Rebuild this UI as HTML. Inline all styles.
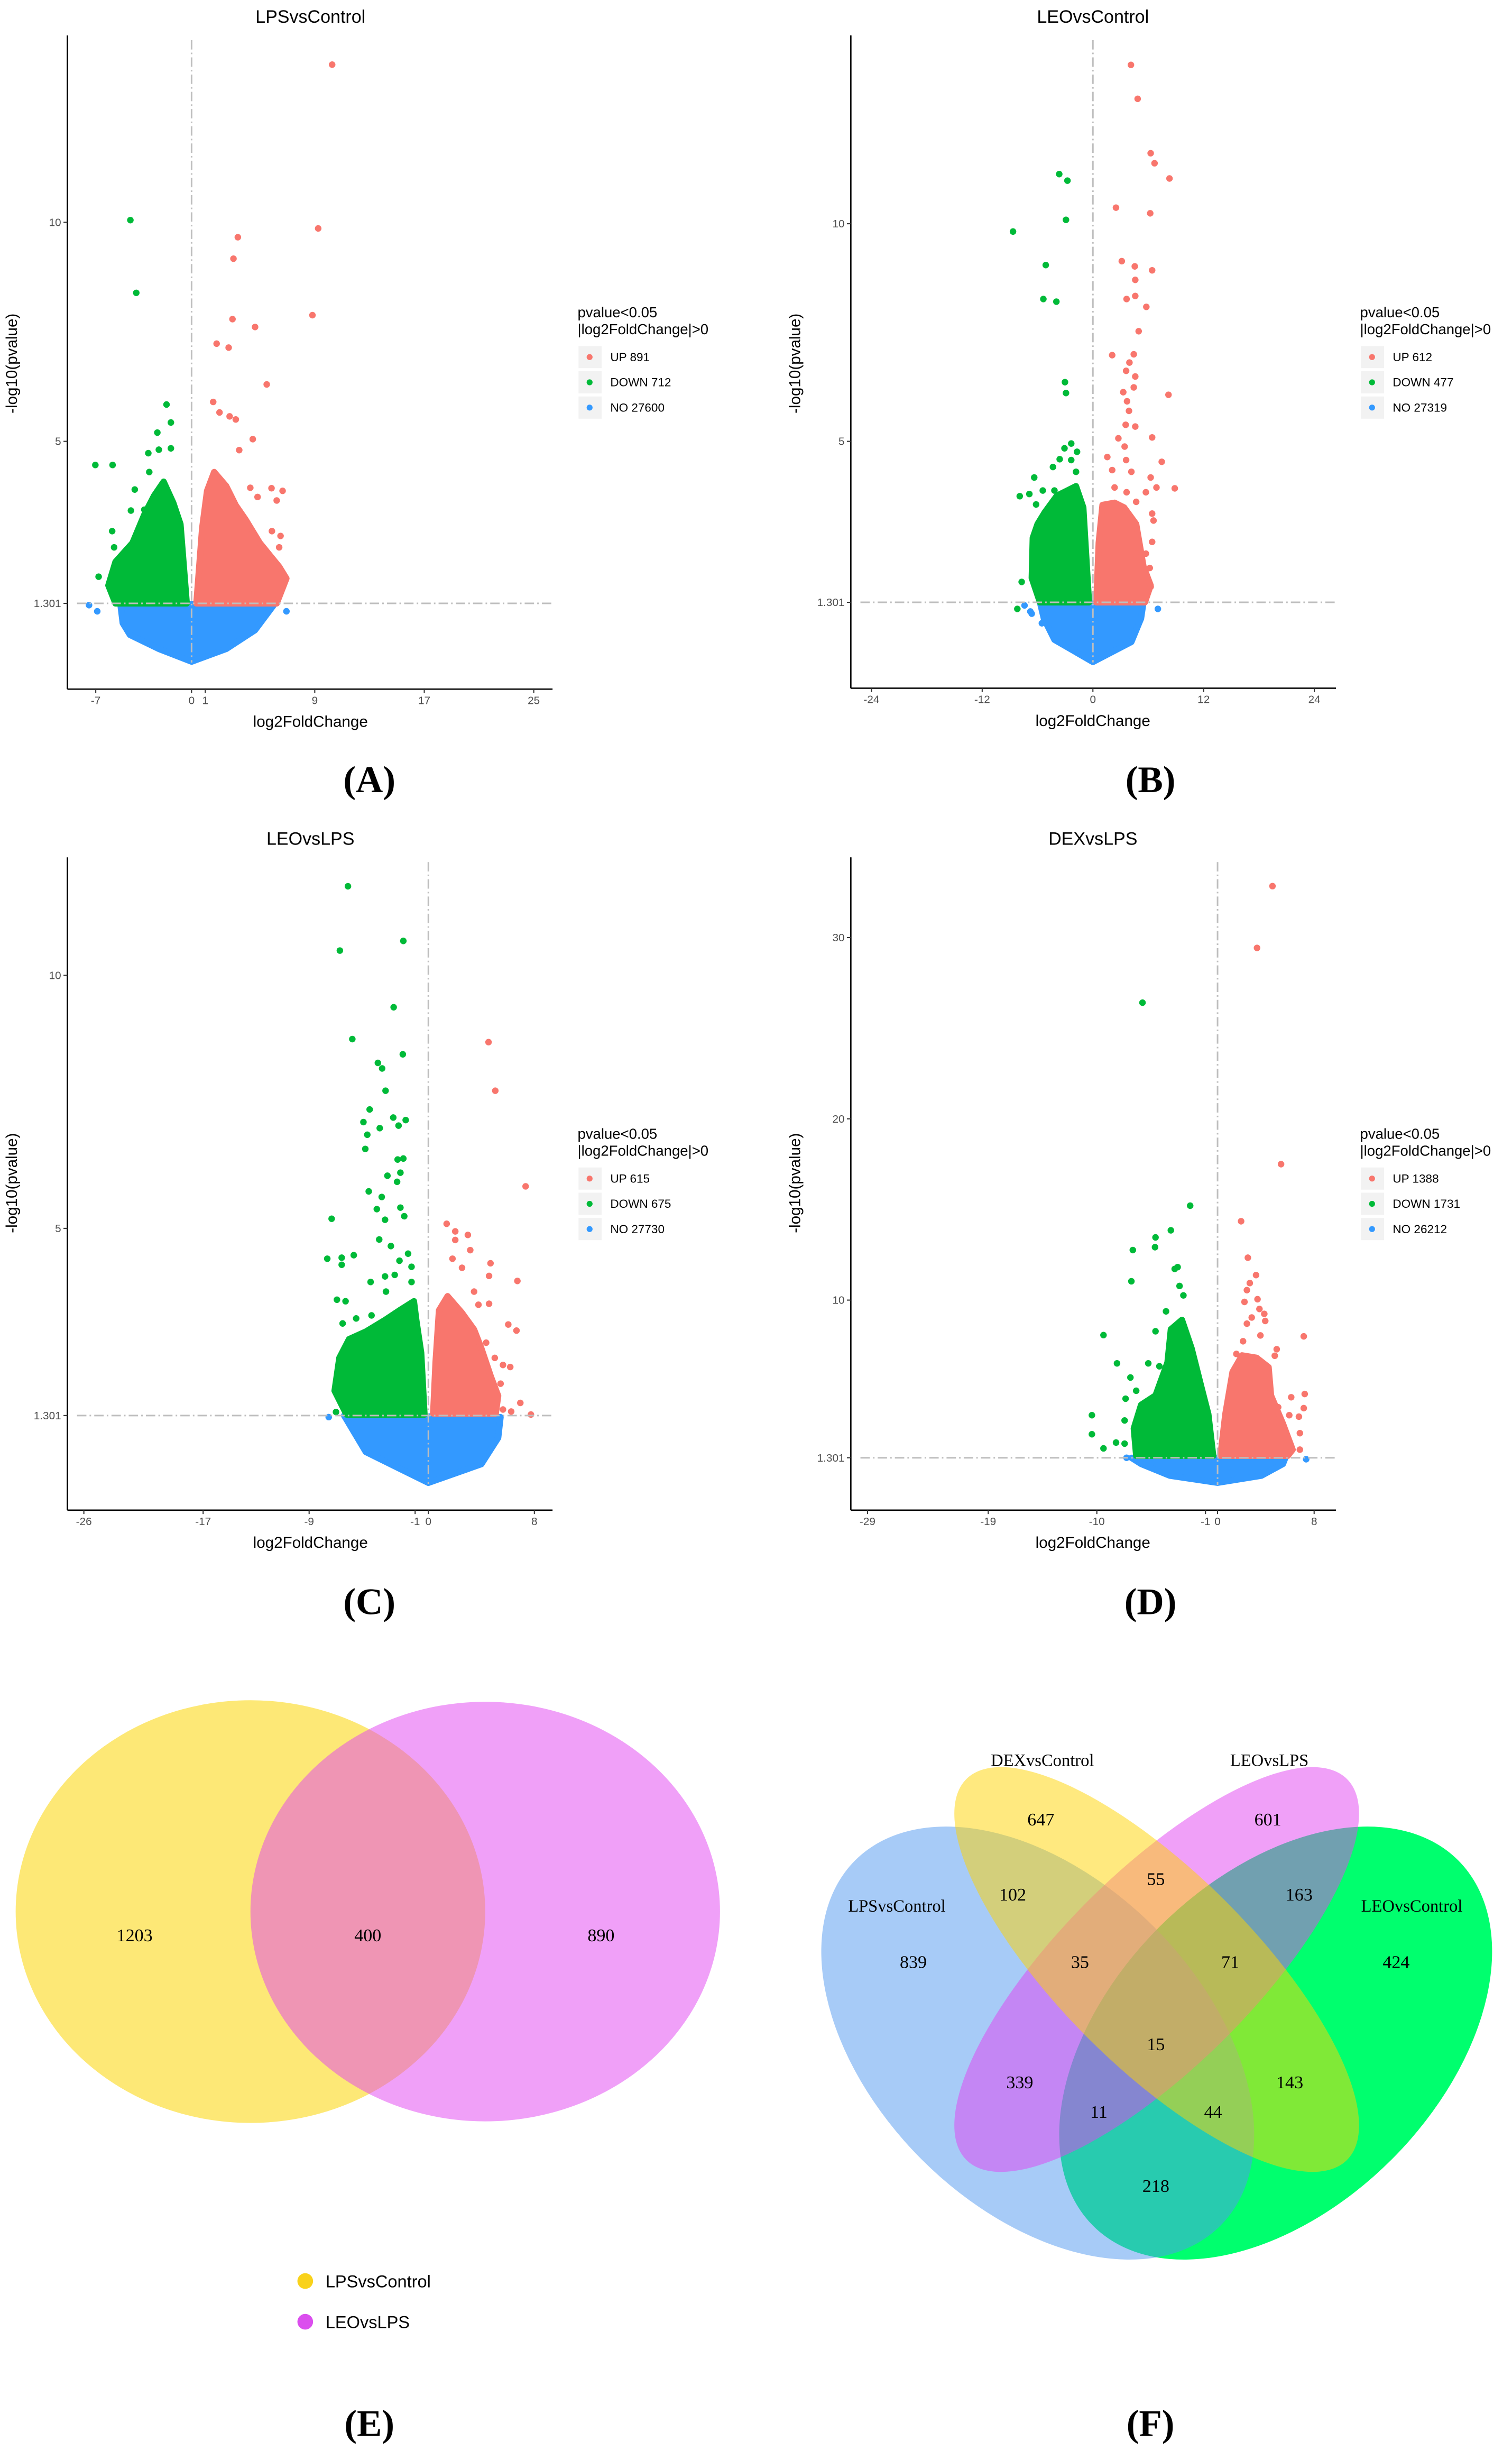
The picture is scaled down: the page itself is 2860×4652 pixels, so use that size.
<!DOCTYPE html>
<html><head><meta charset="utf-8"><style>
html,body{margin:0;padding:0;background:#fff;}
svg{display:block;}
</style></head><body>
<svg id="fig" xmlns="http://www.w3.org/2000/svg" width="2860" height="4652" viewBox="0 0 966 1571.3" font-family="Liberation Sans, sans-serif">
<rect x="0" y="0" width="966" height="1571.3" fill="#fff"/>
<g font-family="Liberation Serif, serif" font-weight="bold" font-size="24" text-anchor="middle" fill="#000">
<text x="236" y="506">(A)</text>
<text x="735" y="506">(B)</text>
<text x="236" y="1031">(C)</text>
<text x="735" y="1031">(D)</text>
<text x="236" y="1556">(E)</text>
<text x="735" y="1556">(F)</text>
</g>
</svg>
<script>
// ---------- Panel A: LPSvsControl ----------
const A_upX=[10.27,9.25,3.38,3.06,8.83,2.99,4.64,1.83,2.71,5.49,1.58,2.04,2.78,3.23,4.47,3.48,5.84,6.65,6.22,4.29,4.82,5.87,6.50,6.40,6.75];
const A_upY=[13.6,9.86,9.66,9.17,7.88,7.79,7.61,7.23,7.14,6.30,5.90,5.66,5.57,5.50,5.05,4.80,3.93,3.87,3.65,3.94,3.73,2.95,2.84,2.58,1.88];
const A_downX=[-4.47,-4.04,-1.83,-1.51,-2.50,-7.03,-5.77,-3.16,-2.39,-1.51,-4.15,-4.43,-5.80,-5.66,-6.79,-4.50,-3.45,-3.09];
const A_downY=[10.05,8.39,5.84,5.43,5.20,4.46,4.46,4.73,4.81,4.84,3.90,3.42,2.95,2.58,1.91,2.55,3.44,4.30];
const A_noX=[-7.49,-6.89,6.93];
const A_noY=[1.26,1.12,1.12];
const A_greenHullX=[-5.56,-6.08,-5.56,-4.32,-3.45,-2.74,-2.04,-1.34,-0.81,-0.35];
const A_greenHullY=[1.30,1.71,2.25,2.68,3.33,3.76,4.08,3.60,3.11,1.30];
const A_redHullX=[0.35,0.77,1.13,1.65,2.53,3.23,3.94,4.99,6.40,6.93,6.22];
const A_redHullY=[1.30,3.01,3.87,4.30,3.98,3.54,3.22,2.68,2.14,1.87,1.30];
const A_blueHullX=[-5.20,-5.03,-4.50,-2.39,0,2.53,4.64,6.05];
const A_blueHullY=[1.28,0.85,0.58,0.26,-0.03,0.26,0.69,1.28];
const A_xTicks=[-7,0,1,9,17,25];
const A_yTicks=[1.301,5,10];
const A_yTickLabels=["1.301","5","10"];
const A_counts=[891,712,27600];

// ---------- Panel B: LEOvsControl ----------
const B_upX=[4.12,4.85,6.26,6.68,8.30,2.50,6.21,3.13,4.54,6.42,4.59,3.65,4.59,5.79,4.96,2.09,4.43,3.96,3.60,4.59,8.19,3.29,4.43,3.70,3.91,3.55,4.59,6.42,2.76,3.44,1.56,7.46,3.60,2.09,4.17,6.26,2.35,3.65,5.74,6.89,8.87,4.69,6.42,6.57,6.42,4.59,5.74,6.16,6.26];
const B_upY=[13.65,12.87,11.62,11.39,11.04,10.37,10.24,9.14,9.02,8.93,8.71,8.27,8.34,8.09,7.53,6.98,7.00,6.81,6.62,6.49,6.07,6.13,6.24,5.92,5.70,5.38,5.34,5.09,5.07,4.88,4.64,4.53,4.57,4.34,4.30,4.17,3.94,3.83,3.83,3.94,3.92,3.61,3.34,3.18,2.69,2.42,2.42,2.09,1.66];
const B_downX=[-3.65,-2.76,-2.92,-8.66,-5.11,-5.37,-3.96,-3.03,-2.92,-2.35,-3.08,-1.72,-3.60,-4.33,-6.36,-7.93,-6.89,-5.43,-6.16,-4.17,-7.72,-8.19,-2.35,-1.83];
const B_downY=[11.14,10.99,10.09,9.82,9.05,8.27,8.21,6.36,6.11,4.95,4.84,4.76,4.59,4.41,4.17,3.74,3.79,3.87,3.55,3.87,1.77,1.15,4.57,4.30];
const B_noX=[-7.41,-6.78,-6.63,-5.53,7.04];
const B_noY=[1.23,1.09,1.04,0.82,1.15];
const B_greenHullX=[-5.74,-6.63,-6.52,-6.00,-5.22,-3.91,-2.87,-1.83,-1.04,-0.78,-0.42];
const B_greenHullY=[1.30,1.86,2.78,3.10,3.37,3.75,3.86,3.97,3.48,2.56,1.30];
const B_redHullX=[0.37,0.63,1.04,2.35,3.39,4.69,5.48,6.26,5.63];
const B_redHullY=[1.30,2.67,3.54,3.59,3.48,3.10,2.13,1.69,1.30];
const B_blueHullX=[-5.74,-5.32,-4.17,0,4.17,5.22,5.48];
const B_blueHullY=[1.30,0.93,0.44,-0.07,0.39,0.93,1.30];
const B_xTicks=[-24,-12,0,12,24];
const B_yTicks=[1.301,5,10];
const B_yTickLabels=["1.301","5","10"];
const B_counts=[612,477,27319];

// ---------- Panel C: LEOvsLPS ----------
const C_upX=[4.54,5.05,7.34,1.38,2.03,2.98,3.16,2.03,1.82,4.69,4.58,6.72,2.54,3.45,3.78,4.58,6.03,6.65,4.36,5.01,5.63,6.18,5.45,6.94,7.74,5.63,6.25];
const C_upY=[8.68,7.72,5.83,5.09,4.94,4.87,4.57,4.77,4.40,4.31,4.06,3.96,4.22,3.75,3.49,3.51,3.10,2.98,2.74,2.44,2.30,2.26,1.93,1.55,1.32,1.42,1.38];
const C_downX=[-6.07,-1.89,-6.68,-2.62,-5.74,-1.93,-3.81,-3.49,-3.23,-4.43,-4.90,-2.65,-1.71,-3.67,-2.25,-4.61,-4.76,-2.32,-1.89,-3.09,-2.11,-2.36,-4.50,-3.52,-3.89,-2.11,-7.30,-3.27,-1.82,-3.71,-2.83,-7.63,-6.54,-5.63,-6.54,-2.18,-1.53,-1.27,-4.36,-3.27,-2.54,-1.27,-6.90,-6.25,-3.20,-5.45,-4.29,-6.47,-6.97];
const C_downY=[11.76,10.68,10.49,9.37,8.74,8.44,8.27,8.16,7.72,7.35,7.10,7.19,7.14,6.98,7.03,6.85,6.57,6.36,6.38,6.04,6.10,5.92,5.73,5.62,5.38,5.41,5.19,5.17,5.24,4.78,4.65,4.40,4.42,4.47,4.28,4.36,4.50,4.24,3.94,4.05,4.08,3.94,3.59,3.56,3.75,3.22,3.28,3.12,1.37];
const C_noX=[-7.52];
const C_noY=[1.27];
const C_greenHullX=[-6.18,-7.08,-6.72,-5.99,-4.72,-3.27,-2.18,-1.09,-0.91,-0.54,-0.29];
const C_greenHullY=[1.32,1.79,2.44,2.81,2.96,3.19,3.38,3.56,3.19,2.54,1.32];
const C_redHullX=[0.36,0.54,0.80,1.45,2.54,3.45,4.00,4.72,5.27,5.09];
const C_redHullY=[1.34,2.35,3.38,3.66,3.33,3.00,2.63,2.07,1.69,1.34];
const C_blueHullX=[-6.36,-4.72,0,4.00,5.27,5.45];
const C_blueHullY=[1.30,0.58,-0.03,0.34,0.86,1.27];
const C_xTicks=[-26,-17,-9,-1,0,8];
const C_yTicks=[1.301,5,10];
const C_yTickLabels=["1.301","5","10"];
const C_counts=[615,675,27730];

// ---------- Panel D: DEXvsLPS ----------
const D_upX=[4.55,3.27,5.26,1.95,2.51,3.19,2.67,2.43,3.31,2.23,3.47,3.87,2.83,3.95,2.43,7.14,3.55,2.11,4.90,4.74,1.56,3.95,6.10,7.22,7.14,5.94,6.74,6.82,5.02,6.82];
const D_upY=[32.84,29.43,17.50,14.35,12.34,11.38,10.94,10.55,10.05,9.90,9.51,9.24,9.04,8.85,8.70,8.00,8.05,7.73,7.29,6.93,7.03,6.30,4.64,4.82,4.04,3.65,3.57,2.66,4.09,1.75];
const D_downX=[-6.22,-2.27,-3.87,-5.14,-5.18,-7.02,-3.31,-3.55,-7.14,-3.15,-2.83,-4.27,-5.14,-9.45,-8.33,-7.22,-5.74,-7.62,-10.41,-10.41,-9.45,-8.41,-7.70,-7.70,-6.74,-4.82];
const D_downY=[26.41,15.21,13.85,13.46,12.92,12.76,11.82,11.72,11.04,10.78,10.26,9.38,8.28,8.07,6.51,5.73,6.51,4.56,3.65,2.60,1.82,2.14,2.08,3.36,5.00,6.35];
const D_noX=[7.34,-7.54];
const D_noY=[1.22,1.30];
const D_greenHullX=[-6.74,-6.94,-6.34,-5.14,-4.15,-3.87,-2.95,-2.15,-1.36,-0.76,-0.36];
const D_greenHullY=[1.41,2.92,4.22,4.74,6.56,8.39,8.91,7.34,5.26,3.70,1.41];
const D_redHullX=[0.24,0.64,1.24,2.03,3.23,4.23,4.43,5.42,6.22,5.82];
const D_redHullY=[1.41,3.70,6.04,6.95,6.82,6.30,4.74,3.18,1.75,1.41];
const D_blueHullX=[-7.14,-6.34,-3.95,0,3.63,5.42,5.62];
const D_blueHullY=[1.30,0.96,0.31,-0.08,0.31,0.96,1.30];
const D_xTicks=[-29,-19,-10,-1,0,8];
const D_yTicks=[1.301,10,20,30];
const D_yTickLabels=["1.301","10","20","30"];
const D_counts=[1388,1731,26212];

// ---------- Venn data ----------
const E_sets=["LPSvsControl","LEOvsLPS"];
const E_counts=[1203,400,890];
const F_sets=["LPSvsControl","DEXvsControl","LEOvsLPS","LEOvsControl"];
const F_counts=[647,601,102,55,163,839,35,71,424,15,339,143,11,44,218];

const NS='http://www.w3.org/2000/svg';
const svg=document.getElementById('fig');
const FX=0.3075, FY=0.3015;
const RED='#F8766D', GREEN='#00BA38', BLUE='#3399FF';
function mk(tag,parent){const e=document.createElementNS(NS,tag);parent.appendChild(e);return e;}
function sa(e,o){for(const k in o)e.setAttribute(k,o[k]);}

function volcano(p){
  const g=mk('g',svg);
  
  
  const X=v=>p.ox+FX*(p.x0+v*p.xu);
  const Y=v=>p.oy+FY*(p.y0+(p.yv-v)*p.yu);
  const ZX=z=>p.ox+FX*z, ZY=z=>p.oy+FY*z;
  function hull(xs,ys,col,nm){
    const pts=xs.map((x,i)=>X(x).toFixed(2)+','+Y(ys[i]).toFixed(2)).join(' ');
    const pg=mk('polygon',g);
    sa(pg,{points:pts,fill:col,stroke:col,'stroke-width':4,'stroke-linejoin':'round'});
    
    
  }
  function pts(xs,ys,col,nm){
    xs.forEach((x,i)=>{
      const c=mk('circle',g);
      sa(c,{cx:X(x).toFixed(2),cy:Y(ys[i]).toFixed(2),r:2.1,fill:col});
      
      
    });
  }
  hull(p.blueHullX,p.blueHullY,BLUE,'no-cluster');
  pts(p.noX,p.noY,BLUE,'no-point');
  hull(p.greenHullX,p.greenHullY,GREEN,'down-cluster');
  hull(p.redHullX,p.redHullY,RED,'up-cluster');
  pts(p.downX,p.downY,GREEN,'down-point');
  pts(p.upX,p.upY,RED,'up-point');
  const vl=mk('line',g);
  sa(vl,{x1:X(0),x2:X(0),y1:ZY(p.top+10),y2:Y(p.yMin),stroke:'#BEBEBE','stroke-width':1,'stroke-dasharray':'6 2 1 2'});
  
  
  const hl=mk('line',g);
  sa(hl,{x1:ZX(p.left+20),x2:ZX(p.right),y1:Y(1.301),y2:Y(1.301),stroke:'#BEBEBE','stroke-width':1,'stroke-dasharray':'6 2 1 2'});
  
  
  const ya=mk('line',g);
  sa(ya,{x1:ZX(p.left),x2:ZX(p.left),y1:ZY(p.top),y2:ZY(p.bottom),stroke:'#000','stroke-width':0.9});
  
  
  const xa=mk('line',g);
  sa(xa,{x1:ZX(p.left),x2:ZX(p.right),y1:ZY(p.bottom),y2:ZY(p.bottom),stroke:'#000','stroke-width':0.9});
  
  
  p.xTicks.forEach(t=>{
    const tk=mk('line',g);
    sa(tk,{x1:X(t),x2:X(t),y1:ZY(p.bottom),y2:ZY(p.bottom)+2.5,stroke:'#333','stroke-width':0.7});
    
    
    const tl=mk('text',g);
    sa(tl,{x:X(t),y:ZY(p.bottom)+9.5,'font-size':7,fill:'#4D4D4D','text-anchor':'middle'});
    tl.textContent=String(t);
    
    
  });
  p.yTicks.forEach((t,i)=>{
    const tk=mk('line',g);
    sa(tk,{x1:ZX(p.left)-2.5,x2:ZX(p.left),y1:Y(t),y2:Y(t),stroke:'#333','stroke-width':0.7});
    
    
    const tl=mk('text',g);
    sa(tl,{x:ZX(p.left)-4,y:Y(t)+2.4,'font-size':7,fill:'#4D4D4D','text-anchor':'end'});
    tl.textContent=p.yTickLabels[i];
    
    
  });
  const ti=mk('text',g);
  sa(ti,{x:ZX(p.titleX),y:ZY(p.titleY)+4,'font-size':11.5,fill:'#000','text-anchor':'middle'});
  ti.textContent=p.title;
  
  
  const xl=mk('text',g);
  sa(xl,{x:ZX(p.titleX),y:ZY(p.bottom+70)+3,'font-size':10,fill:'#000','text-anchor':'middle'});
  xl.textContent='log2FoldChange';
  
  
  const yl=mk('text',g);
  const yx=ZX(p.yLabX), yy=ZY(770);
  sa(yl,{x:yx,y:yy,'font-size':10,fill:'#000','text-anchor':'middle',transform:'rotate(-90 '+yx+' '+yy+')'});
  yl.textContent='-log10(pvalue)';
  
  
  const lx=p.legX, ly=p.legY;
  const lt1=mk('text',g);
  sa(lt1,{x:ZX(lx),y:ZY(ly),'font-size':9.3,fill:'#000'});
  lt1.textContent='pvalue<0.05';
  
  
  const lt2=mk('text',g);
  sa(lt2,{x:ZX(lx),y:ZY(ly+36),'font-size':9.3,fill:'#000'});
  lt2.textContent='|log2FoldChange|>0';
  
  
  const labs=['UP ','DOWN ','NO '], cols=[RED,GREEN,BLUE];
  p.counts.forEach((c,i)=>{
    const by=ly+61+i*53.5;
    const bx=mk('rect',g);
    sa(bx,{x:ZX(lx+2),y:ZY(by),width:FX*48,height:FY*47,fill:'#F2F2F2'});
    
    
    const dt=mk('circle',g);
    sa(dt,{cx:ZX(lx+25),cy:ZY(by+23.5),r:1.9,fill:cols[i]});
    
    
    const tx=mk('text',g);
    sa(tx,{x:ZX(lx+68),y:ZY(by+23.5)+2.6,'font-size':7.6,fill:'#000'});
    tx.textContent=labs[i]+c;
    
    
  });
}

volcano({name:'volcano-lps-vs-control',title:'LPSvsControl',ox:0,oy:0,x0:398,xu:28.44,y0:471,yv:10,yu:92.8,yMin:-0.05,
  left:140,right:1148,top:75,bottom:1460,titleX:645,titleY:35,yLabX:35,legX:1200,legY:672,
  upX:A_upX,upY:A_upY,downX:A_downX,downY:A_downY,noX:A_noX,noY:A_noY,
  greenHullX:A_greenHullX,greenHullY:A_greenHullY,redHullX:A_redHullX,redHullY:A_redHullY,blueHullX:A_blueHullX,blueHullY:A_blueHullY,
  xTicks:A_xTicks,yTicks:A_yTicks,yTickLabels:A_yTickLabels,counts:A_counts});
volcano({name:'volcano-leo-vs-control',title:'LEOvsControl',ox:483,oy:0,x0:700,xu:19.17,y0:474,yv:10,yu:92.2,yMin:-0.08,
  left:197,right:1205,top:75,bottom:1458,titleX:700,titleY:35,yLabX:92,legX:1255,legY:672,
  upX:B_upX,upY:B_upY,downX:B_downX,downY:B_downY,noX:B_noX,noY:B_noY,
  greenHullX:B_greenHullX,greenHullY:B_greenHullY,redHullX:B_redHullX,redHullY:B_redHullY,blueHullX:B_blueHullX,blueHullY:B_blueHullY,
  xTicks:B_xTicks,yTicks:B_yTicks,yTickLabels:B_yTickLabels,counts:B_counts});
volcano({name:'volcano-leo-vs-lps',title:'LEOvsLPS',ox:0,oy:523.5,x0:890,xu:27.53,y0:330,yv:10,yu:107.2,yMin:-0.05,
  left:140,right:1148,top:80,bottom:1463,titleX:645,titleY:40,yLabX:35,legX:1200,legY:676,
  upX:C_upX,upY:C_upY,downX:C_downX,downY:C_downY,noX:C_noX,noY:C_noY,
  greenHullX:C_greenHullX,greenHullY:C_greenHullY,redHullX:C_redHullX,redHullY:C_redHullY,blueHullX:C_blueHullX,blueHullY:C_blueHullY,
  xTicks:C_xTicks,yTicks:C_yTicks,yTickLabels:C_yTickLabels,counts:C_counts});
volcano({name:'volcano-dex-vs-lps',title:'DEXvsLPS',ox:483,oy:523.5,x0:959,xu:25.08,y0:250,yv:30,yu:38.4,yMin:-0.2,
  left:197,right:1205,top:80,bottom:1463,titleX:700,titleY:40,yLabX:92,legX:1255,legY:676,
  upX:D_upX,upY:D_upY,downX:D_downX,downY:D_downY,noX:D_noX,noY:D_noY,
  greenHullX:D_greenHullX,greenHullY:D_greenHullY,redHullX:D_redHullX,redHullY:D_redHullY,blueHullX:D_blueHullX,blueHullY:D_blueHullY,
  xTicks:D_xTicks,yTicks:D_yTicks,yTickLabels:D_yTickLabels,counts:D_counts});

// ---------- Venn E ----------
(function(){
  const g=mk('g',svg);
  
  
  const e1=mk('ellipse',g);
  sa(e1,{cx:160,cy:1221,rx:150,ry:135,fill:'#FDE876'});
  
  
  const e2=mk('ellipse',g);
  sa(e2,{cx:310,cy:1221,rx:150,ry:134,fill:'#E141F1','fill-opacity':0.5});
  
  
  const pos=[86,235,384];
  E_counts.forEach((c,i)=>{
    const t=mk('text',g);
    sa(t,{x:pos[i],y:1240,'font-size':11.5,'font-family':'Liberation Serif, serif','text-anchor':'middle',fill:'#000'});
    t.textContent=String(c);
    
    
  });
  const lc=['#F9D21B','#DB4EEE'];
  E_sets.forEach((s,i)=>{
    const c=mk('circle',g);
    sa(c,{cx:195,cy:1457+i*26,r:5,fill:lc[i]});
    
    
    const t=mk('text',g);
    sa(t,{x:208,y:1461+i*26,'font-size':11,fill:'#000'});
    t.textContent=s;
    
    
  });
})();

// ---------- Venn F ----------
(function(){
  const g=mk('g',svg);
  
  
  const ells=[
    {cx:815,cy:1305,rx:165,ry:105,rot:-45,fill:'#00FF6E',op:1,nm:'venn-set-leo-vs-control'},
    {cx:663,cy:1305,rx:165,ry:105,rot:45,fill:'#4F97EF',op:0.5,nm:'venn-set-lps-vs-control'},
    {cx:739,cy:1258,rx:172,ry:62,rot:-45,fill:'#E141F1',op:0.5,nm:'venn-set-leo-vs-lps'},
    {cx:739,cy:1258,rx:172,ry:62,rot:45,fill:'#FFD300',op:0.5,nm:'venn-set-dex-vs-control'}
  ];
  ells.forEach(o=>{
    const e=mk('ellipse',g);
    sa(e,{cx:o.cx,cy:o.cy,rx:o.rx,ry:o.ry,fill:o.fill,'fill-opacity':o.op,transform:'rotate('+o.rot+' '+o.cx+' '+o.cy+')'});
    
    
  });
  const sp=[[573,1217],[666,1124],[811,1124],[902,1217]];
  F_sets.forEach((s,i)=>{
    const t=mk('text',g);
    sa(t,{x:sp[i][0],y:sp[i][1]+4,'font-size':11,'font-family':'Liberation Serif, serif','text-anchor':'middle',fill:'#000'});
    t.textContent=s;
    
    
  });
  const cp=[[665,1162],[810,1162],[647,1210],[738.5,1200],[830,1210],[583.5,1253],[690,1253],[786,1253],[892,1253],[738.5,1305.6],[651.5,1329.8],[824,1329.8],[702,1348.7],[775,1348.7],[738.5,1396]];
  F_counts.forEach((c,i)=>{
    const t=mk('text',g);
    sa(t,{x:cp[i][0],y:cp[i][1]+4,'font-size':11.5,'font-family':'Liberation Serif, serif','text-anchor':'middle',fill:'#000'});
    t.textContent=String(c);
    
    
  });
})();
</script>
</body></html>
